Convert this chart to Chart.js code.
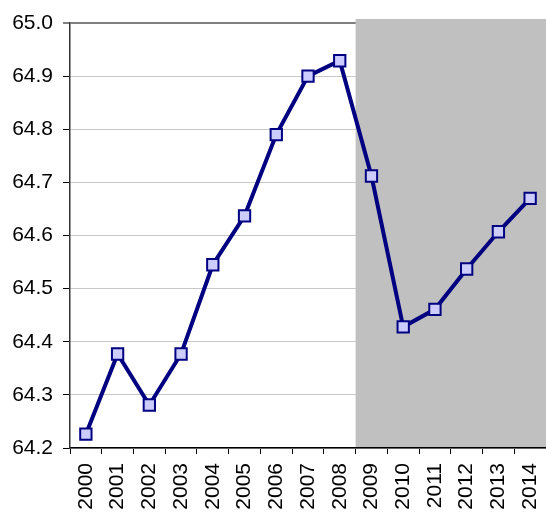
<!DOCTYPE html>
<html>
<head>
<meta charset="utf-8">
<script src="https://cdn.jsdelivr.net/npm/chart.js@4/dist/chart.umd.min.js"></script>
<style>
html,body{margin:0;padding:0;background:#fff;overflow:hidden;}
#wrap{width:546px;height:515px;position:relative;}
</style>
</head>
<body>
<div id="wrap"><canvas id="c"></canvas></div>
<script>
const years = ['2000','2001','2002','2003','2004','2005','2006','2007','2008','2009','2010','2011','2012','2013','2014'];
const values = [64.226, 64.377, 64.281, 64.377, 64.545, 64.637, 64.790, 64.900, 64.929, 64.712, 64.428, 64.461, 64.537, 64.607, 64.670];
const shadeFromIndex = 8.5; // shaded span starts between 2008 and 2009
const yMin = 64.2, yMax = 65.0, yStep = 0.1;

const shadePlugin = {
  id: 'shade',
  beforeDatasetsDraw(chart) {
    const {ctx, chartArea, scales} = chart;
    const x0 = scales.x.getPixelForValue(shadeFromIndex);
    ctx.save();
    ctx.fillStyle = '#c0c0c0';
    ctx.fillRect(x0, chartArea.top - 4, chartArea.right - x0 + 2, chartArea.bottom - chartArea.top + 4 - 1);
    ctx.restore();
  }
};

new Chart(document.getElementById('c'), {
  type: 'line',
  data: {
    labels: years,
    datasets: [{
      data: values,
      borderColor: '#000080',
      borderWidth: 4,
      pointStyle: 'rect',
      pointRadius: 8,
      pointBackgroundColor: '#ccccff',
      pointBorderColor: '#000080',
      pointBorderWidth: 2,
      tension: 0,
      clip: false
    }]
  },
  options: {
    responsive: true,
    maintainAspectRatio: false,
    animation: false,
    layout: { autoPadding: false, padding: { left: 12, top: 23, right: -1, bottom: 5 } },
    plugins: { legend: { display: false }, tooltip: { enabled: false } },
    scales: {
      x: {
        offset: true,
        afterFit: s => { s.height = 62; s.paddingLeft = 0; s.paddingRight = 0; },
        grid: { offset: true, drawOnChartArea: false, tickLength: 6, tickColor: '#000', tickWidth: 1 },
        border: { color: '#000', width: 1.5 },
        ticks: { color: '#000', font: { family: 'Liberation Sans', size: 21 }, minRotation: 90, maxRotation: 90, padding: 9, autoSkip: false }
      },
      y: {
        min: yMin, max: yMax,
        afterFit: s => { s.width = 58; s.paddingTop = 0; s.paddingBottom = 0; },
        grid: {
          color: ctx => (ctx.tick && Math.abs(ctx.tick.value - yMax) < 1e-6) ? '#808080' : '#c8c8c8',
          lineWidth: ctx => (ctx.tick && Math.abs(ctx.tick.value - yMax) < 1e-6) ? 2 : 1,
          tickLength: 7, tickColor: '#000', tickWidth: 1
        },
        border: { color: '#333333', width: 1.5 },
        ticks: { stepSize: yStep, color: '#000', font: { family: 'Liberation Sans', size: 21 }, padding: 10,
          callback: v => Number(v).toFixed(1) }
      }
    }
  },
  plugins: [shadePlugin]
});
</script>
</body>
</html>
